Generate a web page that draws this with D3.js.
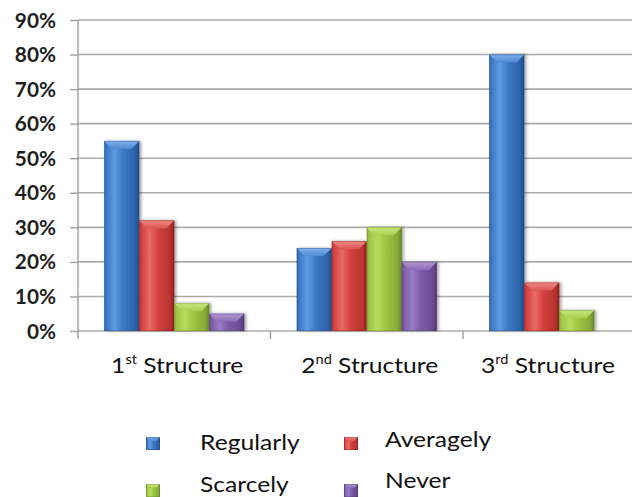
<!DOCTYPE html>
<html><head><meta charset="utf-8">
<script src="https://cdn.jsdelivr.net/npm/d3@7"></script>
<style>html,body{margin:0;padding:0;background:#fff}svg{display:block}</style>
</head><body>
<script>
// ---- data ----
const categories = ["1st Structure", "2nd Structure", "3rd Structure"];
const seriesNames = ["Regularly", "Averagely", "Scarcely", "Never"];
const regularly = [0.55, 0.24, 0.80];
const averagely = [0.32, 0.26, 0.14];
const scarcely  = [0.08, 0.30, 0.06];
const never     = [0.05, 0.20, 0.00];
const yTickValues = [0, 0.1, 0.2, 0.3, 0.4, 0.5, 0.6, 0.7, 0.8, 0.9];

// ---- style ----
const W = 632, H = 497;
const FONT = "Lato, 'Open Sans', sans-serif";
const SX = 1.12;   // horizontal stretch of the original picture's text
const SXY = 1.04;  // stretch for the value axis labels
const palette = [
  {name:"blue",   light:"#5f9be0", body:"#3c78c3", edgeL:"#2d64aa", edgeR:"#1f4a82", top1:"#7fb2ee", top2:"#4d88d2"},
  {name:"red",    light:"#ea6a66", body:"#d1403c", edgeL:"#b73431", edgeR:"#8a2321", top1:"#f08a86", top2:"#dc5551"},
  {name:"green",  light:"#b9dc60", body:"#9dc443", edgeL:"#88ab38", edgeR:"#668526", top1:"#cbe77f", top2:"#a9cf50"},
  {name:"purple", light:"#9a7cc6", body:"#7c5ba7", edgeL:"#694c92", edgeR:"#4f386f", top1:"#b39ad6", top2:"#8b6bb8"}
];
const seriesValues = [regularly, averagely, scarcely, never];

const svg = d3.select("body").append("svg").attr("width", W).attr("height", H)
  .style("font-family", FONT);
const defs = svg.append("defs");

palette.forEach(p => {
  const g = defs.append("linearGradient").attr("id", "side-" + p.name)
    .attr("x1", 0).attr("x2", 1).attr("y1", 0).attr("y2", 0);
  [[0, p.edgeL], [0.06, p.body], [0.3, p.light], [0.55, p.body], [0.88, p.edgeL], [1, p.edgeR]]
    .forEach(([o, c]) => g.append("stop").attr("offset", o).attr("stop-color", c));
  const t = defs.append("linearGradient").attr("id", "top-" + p.name)
    .attr("x1", 0).attr("x2", 0).attr("y1", 0).attr("y2", 1);
  [[0, p.top1], [1, p.top2]].forEach(([o, c]) => t.append("stop").attr("offset", o).attr("stop-color", c));
});
const sh = defs.append("filter").attr("id", "shadow").attr("x", "-20%").attr("y", "-10%").attr("width", "150%").attr("height", "120%");
sh.append("feDropShadow").attr("dx", 2).attr("dy", 0).attr("stdDeviation", 1.4)
  .attr("flood-color", "#000").attr("flood-opacity", 0.35);

// ---- scales ----
const plotLeft = 78, bandW = 192.5;
const x = d3.scaleBand().domain(categories).range([plotLeft, plotLeft + bandW * categories.length]).padding(0);
const barW = x.bandwidth() / 5.5;               // Excel gap width 150%
const xs = d3.scaleBand().domain(seriesNames)
  .range([barW * 0.75, x.bandwidth() - barW * 0.75]).padding(0);
const y = d3.scaleLinear().domain([0, 0.9]).range([331, 20]);

// ---- gridlines ----
svg.append("g").selectAll("line").data(yTickValues).join("line")
  .attr("x1", plotLeft).attr("x2", W)
  .attr("y1", d => y(d)).attr("y2", d => y(d))
  .attr("stroke", "#ababab").attr("stroke-width", 1.6);

// ---- y axis ----
const yAxis = svg.append("g").attr("transform", `translate(${plotLeft},0)`)
  .call(d3.axisLeft(y).tickValues(yTickValues).tickFormat(d3.format(".0%")).tickSize(8).tickSizeOuter(0));
yAxis.select(".domain").remove();
yAxis.selectAll(".tick line").attr("stroke", "#a0a0a0").attr("stroke-width", 1.4);
yAxis.selectAll(".tick text")
  .attr("x", null).attr("dy", null)
  .attr("transform", `translate(-22,7) scale(${SXY},1)`)
  .attr("text-anchor", "end")
  .style("font-size", "20px").style("font-weight", "bold").style("font-family", FONT)
  .attr("fill", "#1e1e1e");
svg.append("line").attr("x1", plotLeft).attr("x2", plotLeft)
  .attr("y1", y(0.9)).attr("y2", y(0) + 8).attr("stroke", "#a0a0a0").attr("stroke-width", 1.4);

// ---- x axis ticks (category boundaries) ----
svg.append("g").selectAll("line").data(categories.slice(1)).join("line")
  .attr("x1", d => x(d)).attr("x2", d => x(d))
  .attr("y1", y(0)).attr("y2", y(0) + 8)
  .attr("stroke", "#a0a0a0").attr("stroke-width", 1.4);

// ---- bars ----
const bevel = 8;
function drawBar(g, x0, w, yTop, yBot, p, bv) {
  const h = yBot - yTop;
  const b = Math.min(bv, h / 2, w / 2);
  g.append("rect").attr("x", x0).attr("y", yTop).attr("width", w).attr("height", h)
    .attr("fill", `url(#side-${p.name})`);
  g.append("path")
    .attr("d", `M${x0},${yTop}L${x0 + w},${yTop}L${x0 + w - b},${yTop + b}L${x0 + b},${yTop + b}Z`)
    .attr("fill", `url(#top-${p.name})`);
  g.append("rect").attr("x", x0 + 0.4).attr("y", yTop + 0.4).attr("width", w - 0.8).attr("height", h - 0.8)
    .attr("fill", "none").attr("stroke", p.edgeR).attr("stroke-opacity", 0.45).attr("stroke-width", 0.8);
}
const barsG = svg.append("g").attr("filter", "url(#shadow)");
categories.forEach((c, ci) => {
  seriesNames.forEach((s, si) => {
    const v = seriesValues[si][ci];
    if (v <= 0) return;
    drawBar(barsG.append("g"), x(c) + xs(s), xs.bandwidth(), y(v), y(0), palette[si], bevel);
  });
});

// ---- category labels ----
const catG = svg.append("g");
categories.forEach(c => {
  const m = c.match(/^(\d+)(st|nd|rd|th)\s(.*)$/);
  const t = catG.append("text").style("font-size", "22px").attr("fill", "#111");
  t.append("tspan").text(m[1]);
  t.append("tspan").text(m[2]).style("font-size", "13px").attr("dy", -9);
  t.append("tspan").text(" " + m[3]).attr("dy", 9);
  const w = t.node().getComputedTextLength() * SX;
  let cx = x(c) + x.bandwidth() / 2 + 3;
  if (cx + w / 2 > W - 17) cx = W - 17 - w / 2;
  t.attr("transform", `translate(${cx - w / 2},373) scale(${SX},1)`);
});

// ---- legend ----
const legCols = [146, 344], legText = [200, 385];
const legRowsMarker = [437, 484], legTextBase = [[450, 447], [492, 488]];
const legG = svg.append("g");
seriesNames.forEach((s, i) => {
  const col = i % 2, row = Math.floor(i / 2);
  drawBar(legG.append("g"), legCols[col], 14, legRowsMarker[row], legRowsMarker[row] + 13, palette[i], 4);
  legG.append("text").text(s)
    .attr("transform", `translate(${legText[col]},${legTextBase[row][col]}) scale(${SX},1)`)
    .style("font-size", "22px").attr("fill", "#111");
});
</script>
</body></html>
